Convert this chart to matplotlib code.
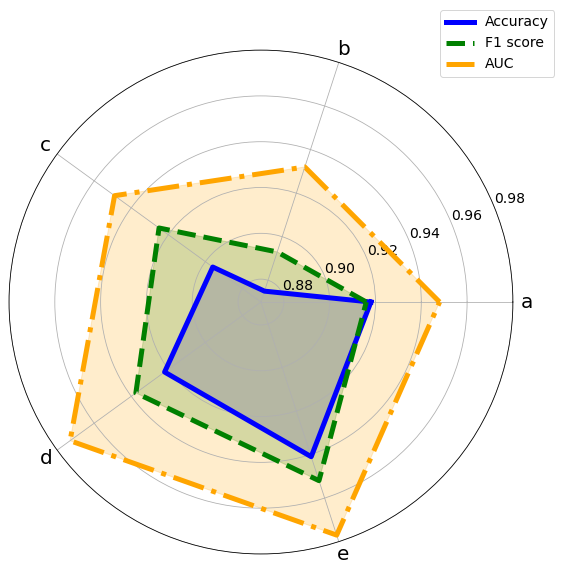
import numpy as np
from matplotlib import pyplot as plt

categories = ['a', 'b', 'c', 'd', 'e']
accuracy = [0.918, 0.875, 0.896, 0.922, 0.941]
f1_score = [0.916, 0.893, 0.925, 0.9375, 0.952]
auc = [0.948, 0.932, 0.949, 0.973, 0.977]
r_ticks = [0.88, 0.90, 0.92, 0.94, 0.96, 0.98]

series = [
    ('Accuracy', accuracy, 'blue', '-'),
    ('F1 score', f1_score, 'green', '--'),
    ('AUC', auc, 'orange', '-.'),
]

angles = np.linspace(0, 2 * np.pi, len(categories), endpoint=False).tolist()
angles += angles[:1]

fig = plt.figure(figsize=(563 / 72, 574 / 72), dpi=72)
ax = fig.add_axes([0.016, 0.0348, 0.895, 0.878], projection='polar')

for name, vals, col, ls in series:
    v = vals + vals[:1]
    ax.plot(angles, v, color=col, linewidth=5, linestyle=ls, label=name)
    ax.fill(angles, v, color=col, alpha=0.2)

ax.set_xticks(angles[:-1])
ax.set_xticklabels(categories, fontsize=20)
ax.set_ylim(0.87, 0.98)
ax.set_yticks(r_ticks)
ax.set_yticklabels([f'{t:.2f}' for t in r_ticks], fontsize=14)

fig.legend(loc='upper right', bbox_to_anchor=(0.997, 0.995), fontsize=14)

plt.savefig('out.png', dpi=72)
